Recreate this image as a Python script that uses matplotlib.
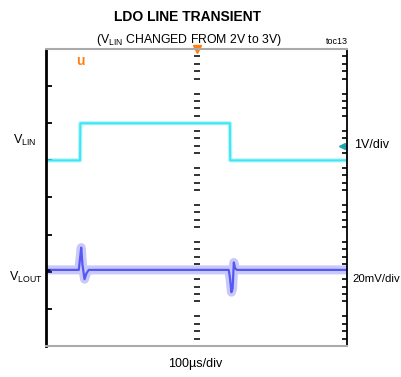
import numpy as np
import matplotlib
matplotlib.use("Agg")
import matplotlib.pyplot as plt

plt.rcParams['font.family'] = ['Liberation Sans', 'DejaVu Sans']
plt.rcParams['mathtext.fontset'] = 'custom'
plt.rcParams['mathtext.rm'] = 'Liberation Sans'

# scope traces, time in us
vlin_t = [0, 113, 114, 611, 612, 1000]
vlin_v = [2.0, 2.0, 3.0, 3.0, 2.0, 2.0]          # V, 1V/div
vlout_t = [0, 109, 113, 117, 121, 128, 134, 142, 607, 611, 616, 620, 624, 628, 634, 1000]
vlout_mv = [0, 0, 6, 12, 3, -5, -2, 0, 0, -4, -12, -10, 4, 1, 0, 0]   # mV, 20mV/div

VLIN_POS = 3.0     # div offset of cyan channel
VLOUT_POS = 2.05   # div offset of blue channel

cyan = '#3ee6f4'
blue = '#4a4cf0'

fig = plt.figure(figsize=(4.01, 3.77), dpi=100)
ax = fig.add_axes([46/401, 1-346/377, 301/401, 297/377])
ax.set_xlim(0, 1000)
ax.set_ylim(0, 8)

# graticule
minor = [i/5 for i in range(1, 40) if i % 5 != 0]
ax.set_xticks([])
ax.set_yticks(range(1, 8))
ax.set_yticks(minor, minor=True)
ax.tick_params(which='major', left=True, right=False, direction='in', length=4, width=1.3, labelleft=False)
ax.tick_params(which='minor', left=False, right=True, direction='in', length=3.5, width=1.2)
ax.plot([500]*len(minor), minor, ls='none', marker='_', ms=5, mew=1.4, color='#333333')

ax.spines['left'].set_linewidth(2)
ax.spines['right'].set_linewidth(1.3)
for s in ['top', 'bottom']:
    ax.spines[s].set_color('#aaaaaa')
    ax.spines[s].set_linewidth(1.5)

vlin = np.array(vlin_v) + VLIN_POS
vlout = np.array(vlout_mv) / 20 + VLOUT_POS
ax.plot(vlin_t, vlin, color=cyan, lw=3, alpha=0.4)
ax.plot(vlin_t, vlin, color=cyan, lw=1.4)
ax.plot(vlout_t, vlout, color=blue, lw=6.5, alpha=0.3)
ax.plot(vlout_t, vlout, color=blue, lw=1.6, alpha=0.9)

# markers
ax.plot([0, 14], [VLOUT_POS, VLOUT_POS], color='#111144', lw=1.8, solid_capstyle='butt')
ax.plot([500], [8], marker='v', ms=6, color='#ff7f10', clip_on=False)
ax.text(113, 7.68, 'u', color='#ff7f10', fontsize=10, fontweight='bold', ha='center', va='center')
ax.plot([982], [5.39], marker='<', ms=4, color='#1fa5a8', clip_on=False)
ax.plot([982, 998], [5.39, 5.39], color='#1fa5a8', lw=1.2)

def px(x, y):
    return x/401, 1 - y/377

fig.text(*px(188, 17), 'LDO LINE TRANSIENT', fontsize=10, fontweight='bold', ha='center', va='center')
fig.text(*px(189, 40), r'(V$_{\rm LIN}$ CHANGED FROM 2V to 3V)', fontsize=8.8, ha='center', va='center')
fig.text(*px(348, 42), 'toc13', fontsize=6.5, ha='right', va='center')
fig.text(*px(13, 140), r'V$_{\rm LIN}$', fontsize=9, ha='left', va='center')
fig.text(*px(9, 277), r'V$_{\rm LOUT}$', fontsize=9, ha='left', va='center')
fig.text(*px(354, 145), '1V/div', fontsize=9, ha='left', va='center')
fig.text(*px(352, 279), '20mV/div', fontsize=8.2, ha='left', va='center')
fig.text(*px(195, 364), '100\u00b5s/div', fontsize=9, ha='center', va='center')

fig.savefig('out.png', dpi=100)
